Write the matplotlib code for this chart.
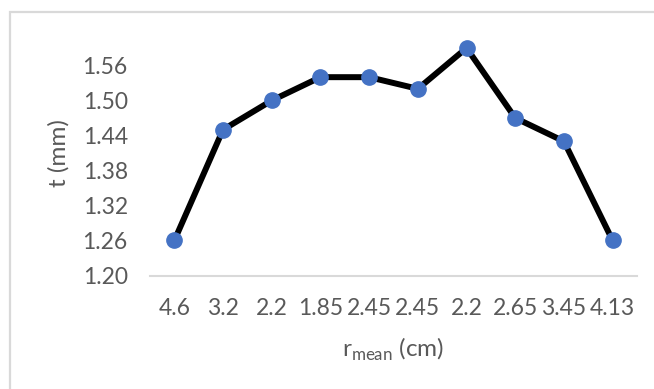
import matplotlib
matplotlib.use("Agg")
import matplotlib.pyplot as plt
from matplotlib.patches import Rectangle

# Mean radius at each position (category labels) and measured thickness
r_mean_labels = ["4.6", "3.2", "2.2", "1.85", "2.45", "2.45", "2.2", "2.65", "3.45", "4.13"]
thickness_mm = [1.26, 1.45, 1.50, 1.54, 1.54, 1.52, 1.59, 1.47, 1.43, 1.26]
y_ticks = [1.20, 1.26, 1.32, 1.38, 1.44, 1.50, 1.56]

plt.rcParams["font.family"] = ["Lato", "DejaVu Sans"]
text_color = "#595959"

fig = plt.figure(figsize=(6.54, 3.89), dpi=100)
fig.patch.set_facecolor("white")

# Chart-area frame (extends past the right and bottom edges)
fig.patches.append(Rectangle((10 / 654, -0.05), 1.0, 1 - 12 / 389 + 0.05,
                             transform=fig.transFigure, fill=False,
                             edgecolor="#d9d9d9", linewidth=1.6))

ax = fig.add_axes([150 / 654, 1 - 275.5 / 389, 487 / 654, 245 / 389])
x = list(range(len(r_mean_labels)))
ax.plot(x, thickness_mm, color="black", linewidth=4.3, zorder=2,
        solid_joinstyle="round")
ax.plot(x, thickness_mm, linestyle="none", marker="o", markersize=11,
        markerfacecolor="#4472c4", markeredgecolor="#4472c4", zorder=3)

ax.set_xlim(-0.5, len(r_mean_labels) - 0.5)
ax.set_ylim(1.20, 1.62)
ax.set_yticks(y_ticks)
ax.set_yticklabels([f"{v:.2f}" for v in y_ticks])
ax.set_xticks(x)
ax.set_xticklabels(r_mean_labels)

for side in ("top", "right", "left"):
    ax.spines[side].set_visible(False)
ax.spines["bottom"].set_color("#d9d9d9")
ax.spines["bottom"].set_linewidth(1.5)
ax.tick_params(axis="both", length=0, labelsize=16.5, colors=text_color)
ax.tick_params(axis="y", pad=16)
ax.tick_params(axis="x", pad=16)

ax.set_ylabel("t (mm)", fontsize=17.5, color=text_color, labelpad=9)
ax.set_xlabel(r"r$_{\mathregular{mean}}$ (cm)", fontsize=17.5, color=text_color,
              labelpad=12)

fig.savefig("out.png", dpi=100, facecolor="white")
